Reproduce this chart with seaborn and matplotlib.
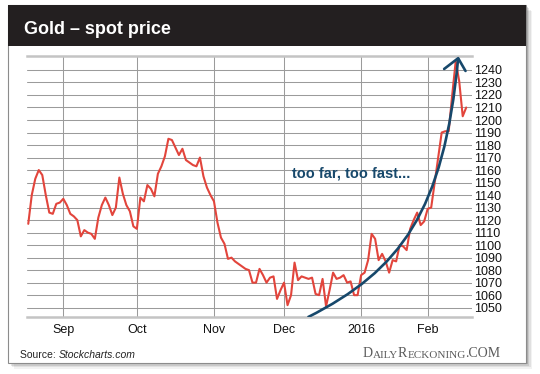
import numpy as np
import matplotlib
matplotlib.use("Agg")
import matplotlib.pyplot as plt
import seaborn as sns
from matplotlib.patches import Rectangle, PathPatch
from matplotlib.path import Path

# Gold spot, daily closes (trading days 18 Aug 2015 .. 17 Feb 2016)
price = [
    1117, 1140, 1153, 1160, 1156, 1140, 1126, 1125, 1133, 1134,
    1137, 1132, 1125, 1123, 1120, 1107, 1112, 1110, 1109, 1105,
    1122, 1132, 1138, 1132, 1124, 1130, 1154, 1141, 1132, 1127,
    1115, 1113, 1138, 1135, 1148, 1145, 1139, 1157, 1163, 1171,
    1185, 1184, 1178, 1172, 1177, 1168, 1166, 1164, 1163, 1170,
    1155, 1146, 1140, 1135, 1118, 1106, 1101, 1089, 1090, 1087,
    1085, 1083, 1081, 1080, 1070, 1070, 1081, 1076, 1070, 1074,
    1075, 1057, 1064, 1070, 1052, 1060, 1086, 1072, 1075, 1074,
    1073, 1074, 1061, 1060, 1073, 1051, 1064, 1078, 1073, 1074,
    1076, 1070, 1071, 1060, 1060, 1076, 1078, 1088, 1109, 1105,
    1088, 1093, 1087, 1078, 1088, 1087, 1100, 1099, 1096, 1113,
    1120, 1126, 1116, 1119, 1129, 1130, 1150, 1170, 1190, 1191,
    1191, 1220, 1247, 1231, 1203, 1210,
]
day = np.arange(len(price))

# first trading day of each month, as trading-day index
month_pos = [10, 31, 53, 73, 95, 114]
month_labels = ["Sep", "Oct", "Nov", "Dec", "2016", "Feb"]
y_ticks = list(range(1050, 1250, 10))

RED = "#e2453c"
NAVY = "#17486b"
W, H = 540, 374

sns.set_style("white")
plt.rcParams["font.family"] = ["Liberation Sans", "DejaVu Sans"]


def fx(px):
    return px / W


def fy(py):
    return 1 - py / H


fig = plt.figure(figsize=(W / 100, H / 100), dpi=100)

# card with drop shadow and dark title bar
cx0, cx1, cy0, cy1 = 7.6, 526, 5, 362.6
for k, a in [(6, 0.05), (4.5, 0.07), (3, 0.10), (1.5, 0.14)]:
    fig.add_artist(Rectangle((fx(cx0 + k), fy(cy1 + k)), (cx1 - cx0) / W, (cy1 - cy0) / H,
                             color="black", alpha=a, lw=0, zorder=0))
fig.add_artist(Rectangle((fx(cx0), fy(cy1)), (cx1 - cx0) / W, (cy1 - cy0) / H,
                         facecolor="white", edgecolor="#8c8c8c", lw=0.8, zorder=1))
fig.add_artist(Rectangle((fx(cx0), fy(45.5)), (cx1 - cx0) / W, (45.5 - cy0) / H,
                         facecolor="#231f20", lw=0, zorder=2))
fig.text(fx(24), fy(33.6), "Gold \u2013 spot price", color="white", fontsize=13,
         fontweight="bold", va="baseline", zorder=3)

# chart
ax = fig.add_axes([fx(27), fy(317.3), (472 - 27) / W, (317.3 - 55.7) / H], zorder=3)
sns.lineplot(x=day, y=price, color=RED, lw=1.5, ax=ax, zorder=3)
ax.set_xlim(-0.36, 126.65)
ax.set_ylim(1042.3, 1251.4)
ax.set_yticks(y_ticks)
ax.yaxis.tick_right()
ax.set_xticks(month_pos, month_labels)
ax.set_xlabel("")
ax.set_ylabel("")
ax.grid(True, color="#9b9b9b", lw=0.75)
ax.tick_params(axis="both", length=0, labelsize=9, colors="#111111")
ax.tick_params(axis="y", pad=1.2)
ax.tick_params(axis="x", pad=5)
for s in ["left", "right"]:
    ax.spines[s].set_visible(False)
for s in ["top", "bottom"]:
    ax.spines[s].set_color("#c4c4c4")
    ax.spines[s].set_linewidth(1.8)

# "too far, too fast" arc with open arrowhead
arc = Path([(79.75, 1042.3), (106.25, 1079.8), (118.6, 1126.6), (122.7, 1249.4)],
           [Path.MOVETO, Path.CURVE4, Path.CURVE4, Path.CURVE4])
ax.add_patch(PathPatch(arc, fc="none", ec=NAVY, lw=1.9, zorder=4))
ax.plot([118.7, 122.7, 124.8], [1240.8, 1249.4, 1239.2], color=NAVY, lw=1.9,
        clip_on=False, zorder=4)
ax.text(75.4, 1153.9, "too far, too fast...", color=NAVY, fontsize=10.5,
        fontweight="bold", va="baseline", zorder=5)

# footer
src = fig.text(fx(20), fy(357.5), "Source: ", fontsize=7.5, color="#222222", va="baseline")
ax.annotate("Stockcharts.com", xy=(1, 0), xycoords=src, va="bottom", fontsize=7.5,
            style="italic", color="#222222", annotation_clip=False)

prev = fig.text(fx(362.7), fy(357.3), "D", fontsize=10, color="#5a5a5a",
                family="Liberation Serif", va="baseline")
for piece, size in [("AILY", 8), ("R", 10), ("ECKONING", 8), (".COM", 10)]:
    prev = ax.annotate(piece, xy=(1, 0), xycoords=prev, va="bottom", fontsize=size,
                       color="#5a5a5a", family="Liberation Serif", annotation_clip=False)

fig.savefig("out.png", dpi=100)
